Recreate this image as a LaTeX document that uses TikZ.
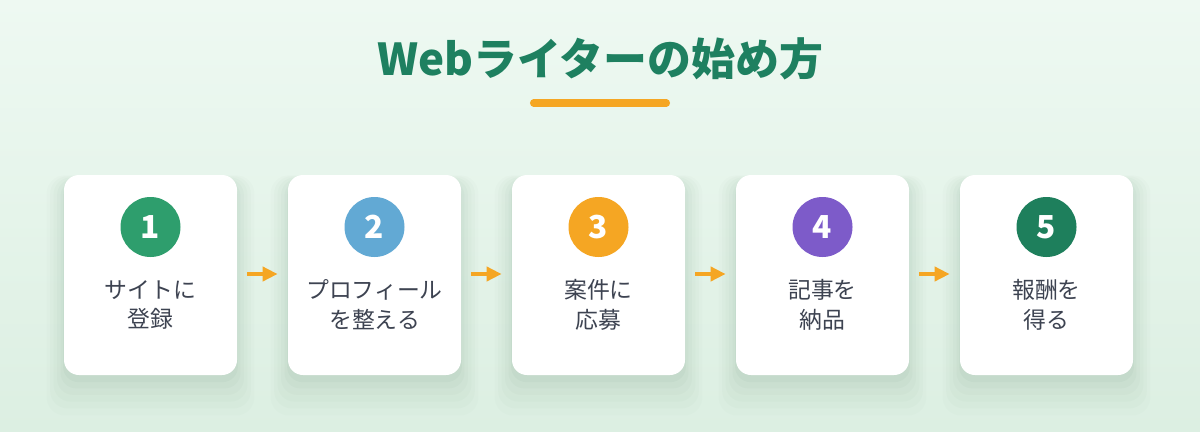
\documentclass[tikz,border=0pt]{standalone}
\usepackage{fontspec}
\usepackage{xcolor}
\usepackage{tikz}
\usetikzlibrary{arrows.meta, positioning, shadows}
\newfontfamily\jpfont{Noto Sans CJK JP}
\definecolor{bgtop}{HTML}{EEF9F2}
\definecolor{bgbottom}{HTML}{DCEFE2}
\definecolor{titlegreen}{HTML}{1E8060}
\definecolor{accentorange}{HTML}{F5A623}
\definecolor{stepgreen}{HTML}{2E9E6D}
\definecolor{stepblue}{HTML}{62A9D4}
\definecolor{steppurple}{HTML}{7D5BC9}
\definecolor{stepdark}{HTML}{1E7F5C}
\definecolor{labelgray}{HTML}{3D4351}
\definecolor{shadowgreen}{HTML}{6E9A80}
\tikzset{
  stepcard/.style={shape=rectangle, rounded corners=0.3cm, fill=white, minimum width=3.46cm, minimum height=4cm,
    drop shadow={shadow xshift=0cm, shadow yshift=-0.34cm, shadow scale=1.20, opacity=0.025, fill=shadowgreen},
    drop shadow={shadow xshift=0cm, shadow yshift=-0.30cm, shadow scale=1.16, opacity=0.03, fill=shadowgreen},
    drop shadow={shadow xshift=0cm, shadow yshift=-0.26cm, shadow scale=1.12, opacity=0.035, fill=shadowgreen},
    drop shadow={shadow xshift=0cm, shadow yshift=-0.22cm, shadow scale=1.08, opacity=0.04, fill=shadowgreen},
    drop shadow={shadow xshift=0cm, shadow yshift=-0.18cm, shadow scale=1.04, opacity=0.05, fill=shadowgreen},
    drop shadow={shadow xshift=0cm, shadow yshift=-0.12cm, shadow scale=1.01, opacity=0.06, fill=shadowgreen}},
  stepnum/.style={shape=circle, minimum size=1.2cm, inner sep=0pt, text=white, font=\jpfont\bfseries\fontsize{18}{18}\selectfont},
  steplabel/.style={align=center, text=labelgray, font=\jpfont\fontsize{13}{17}\selectfont},
  flowarrow/.style={draw=accentorange, line width=2.8pt, -{Triangle[length=0.3cm, width=0.28cm]}}
}
\begin{document}
\begin{tikzpicture}
			% Background and title:
			\shade[top color=bgtop, bottom color=bgbottom] (0, 0) rectangle (24, 8.62);
			\useasboundingbox (0, 0) rectangle (24, 8.62);
			\node[text=titlegreen, font=\jpfont\bfseries\fontsize{25}{25}\selectfont](T) at (12, 7.44){Webライターの始め方};
			\coordinate (U1) at (10.67, 6.56);
			\coordinate (U2) at (13.33, 6.56);
			\draw[accentorange, line width=4pt, line cap=round] (U1) -- (U2);
			% Cards:
			\node[stepcard](C1) at (3.01, 3.12){};
			\node[stepcard](C2) at (7.49, 3.12){};
			\node[stepcard](C3) at (11.97, 3.12){};
			\node[stepcard](C4) at (16.45, 3.12){};
			\node[stepcard](C5) at (20.93, 3.12){};
			% Numbers and labels:
			\node[stepnum, fill=stepgreen](N1) at (3.01, 4.08){1};
			\node[stepnum, fill=stepblue](N2) at (7.49, 4.08){2};
			\node[stepnum, fill=accentorange](N3) at (11.97, 4.08){3};
			\node[stepnum, fill=steppurple](N4) at (16.45, 4.08){4};
			\node[stepnum, fill=stepdark](N5) at (20.93, 4.08){5};
			\node[steplabel](L1) at (3.01, 2.52){サイトに\\登録};
			\node[steplabel](L2) at (7.49, 2.52){プロフィール\\を整える};
			\node[steplabel](L3) at (11.97, 2.52){案件に\\応募};
			\node[steplabel](L4) at (16.45, 2.52){記事を\\納品};
			\node[steplabel](L5) at (20.93, 2.52){報酬を\\得る};
			% Arrows:
			\draw[flowarrow] ([xshift=0.2cm, yshift=0.02cm]C1.east) -- ([xshift=-0.2cm, yshift=0.02cm]C2.west);
			\draw[flowarrow] ([xshift=0.2cm, yshift=0.02cm]C2.east) -- ([xshift=-0.2cm, yshift=0.02cm]C3.west);
			\draw[flowarrow] ([xshift=0.2cm, yshift=0.02cm]C3.east) -- ([xshift=-0.2cm, yshift=0.02cm]C4.west);
			\draw[flowarrow] ([xshift=0.2cm, yshift=0.02cm]C4.east) -- ([xshift=-0.2cm, yshift=0.02cm]C5.west);
		\end{tikzpicture}
\end{document}
